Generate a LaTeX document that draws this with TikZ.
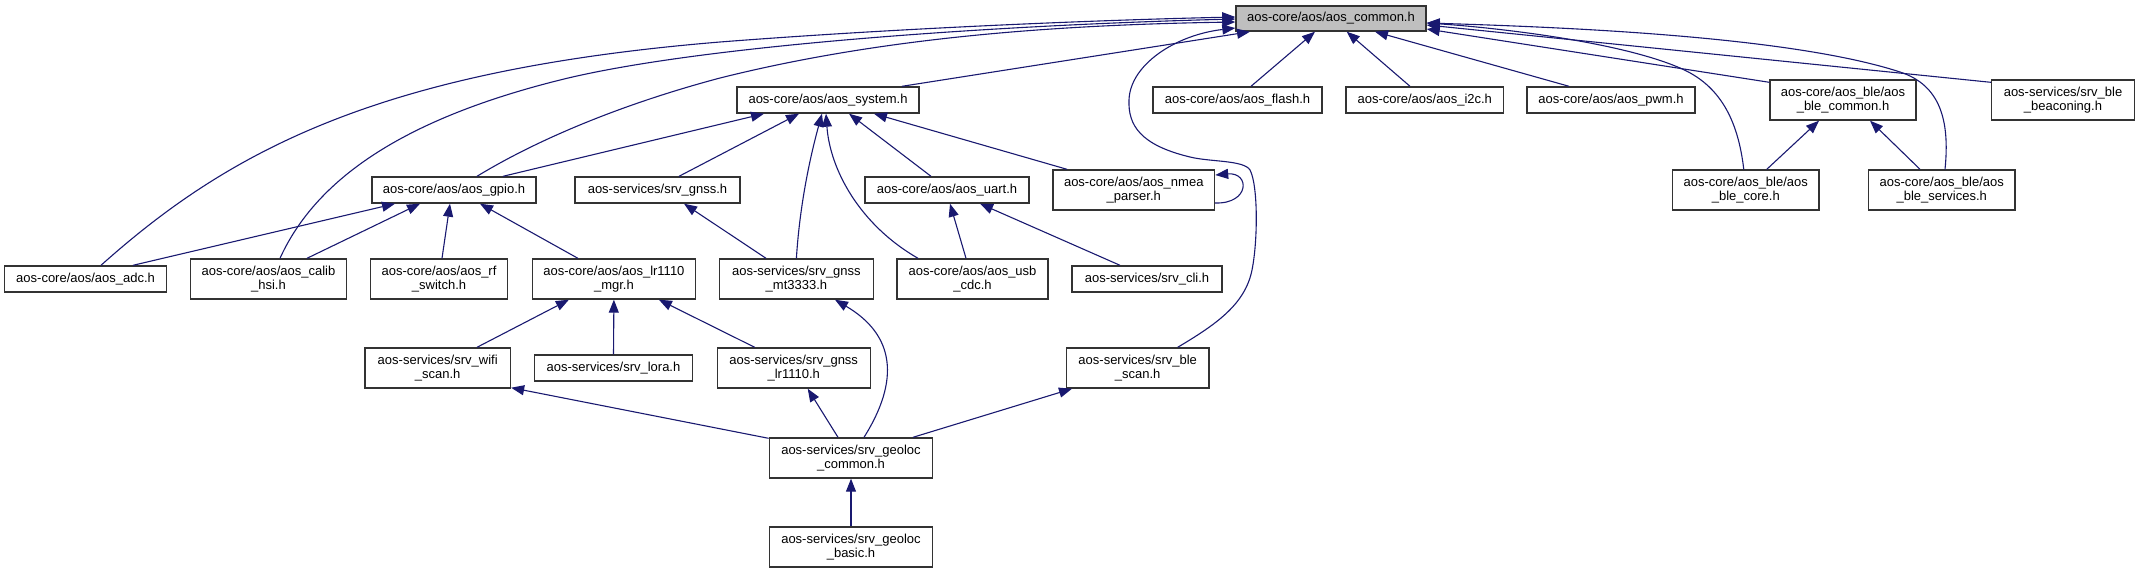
\documentclass[tikz,border=0pt]{standalone}
\usepackage{fontspec}
\setmainfont{Liberation Sans}
\usetikzlibrary{arrows.meta}
\definecolor{edgeblue}{HTML}{191970}
\definecolor{rootgray}{HTML}{BFBFBF}
\begin{document}
\begin{tikzpicture}[x=1pt,y=-1pt,
  box/.style={draw=black!80, line width=1.4pt, fill=white, inner sep=0pt, align=center,
    font=\fontsize{13}{14}\selectfont},
  one/.style={box, minimum height=26pt},
  two/.style={box, minimum height=40pt},
  edge/.style={draw=edgeblue, line width=1.1pt, -{Triangle[length=13pt,width=10pt]}}]
\useasboundingbox (0,0) rectangle (2140,573);
% rank 0
\node[one, minimum height=25pt, minimum width=190pt, fill=rootgray] (common) at (1331,18.5) {aos-core/aos/aos\_common.h};
% rank 1
\node[one, minimum width=182pt] (system) at (828,100) {aos-core/aos/aos\_system.h};
\node[one, minimum width=169pt] (flash) at (1237.5,100) {aos-core/aos/aos\_flash.h};
\node[one, minimum width=157.5pt] (itwoc) at (1424.75,100) {aos-core/aos/aos\_i2c.h};
\node[one, minimum width=168pt] (pwm) at (1611,100) {aos-core/aos/aos\_pwm.h};
\node[two, minimum width=146pt] (blecommon) at (1843,100) {aos-core/aos\_ble/aos\\\_ble\_common.h};
\node[two, minimum width=143pt] (beaconing) at (2063,100) {aos-services/srv\_ble\\\_beaconing.h};
% rank 2
\node[one, minimum width=164pt] (gpio) at (454,190) {aos-core/aos/aos\_gpio.h};
\node[one, minimum width=165pt] (srvgnss) at (657.5,190) {aos-services/srv\_gnss.h};
\node[one, minimum width=164pt] (uart) at (947,190) {aos-core/aos/aos\_uart.h};
\node[two, minimum width=161.5pt] (nmea) at (1133.75,190) {aos-core/aos/aos\_nmea\\\_parser.h};
\node[two, minimum width=146.5pt] (blecore) at (1745.75,190) {aos-core/aos\_ble/aos\\\_ble\_core.h};
\node[two, minimum width=146.6pt] (bleservices) at (1941.7,190) {aos-core/aos\_ble/aos\\\_ble\_services.h};
% rank 3
\node[one, minimum width=162pt] (adc) at (85.6,279) {aos-core/aos/aos\_adc.h};
\node[two, minimum width=156pt] (calib) at (268.5,279) {aos-core/aos/aos\_calib\\\_hsi.h};
\node[two, minimum width=137pt] (rfswitch) at (439,279) {aos-core/aos/aos\_rf\\\_switch.h};
\node[two, minimum width=163pt] (mgr) at (613.9,279) {aos-core/aos/aos\_lr1110\\\_mgr.h};
\node[two, minimum width=154pt] (mtgnss) at (796.4,279) {aos-services/srv\_gnss\\\_mt3333.h};
\node[two, minimum width=151pt] (usbcdc) at (972.5,279) {aos-core/aos/aos\_usb\\\_cdc.h};
\node[one, minimum width=150pt] (srvcli) at (1147,279) {aos-services/srv\_cli.h};
% rank 4
\node[two, minimum width=145.5pt] (wifi) at (437.7,368) {aos-services/srv\_wifi\\\_scan.h};
\node[one, minimum width=157.5pt] (lora) at (613.5,368) {aos-services/srv\_lora.h};
\node[two, minimum width=153pt] (gnsslr) at (793.7,368) {aos-services/srv\_gnss\\\_lr1110.h};
\node[two, minimum width=142.7pt] (blescan) at (1137.7,368) {aos-services/srv\_ble\\\_scan.h};
% rank 5, 6
\node[two, minimum width=163.4pt] (geocommon) at (851,458) {aos-services/srv\_geoloc\\\_common.h};
\node[two, minimum width=163.4pt] (geobasic) at (851,547) {aos-services/srv\_geoloc\\\_basic.h};

% edges into aos_common
\draw[edge] ([xshift=15.4pt]adc.north) .. controls (230,150) and (380,70) .. (720,42)
  .. controls (900,28) and (1100,20) .. ([yshift=1.5pt]common.west);
\draw[edge] ([xshift=11.5pt]calib.north) .. controls (320,170) and (420,115) .. (560,80)
  .. controls (700,45) and (1000,25) .. ([yshift=-0.5pt]common.west);
\draw[edge] ([xshift=23pt]gpio.north) .. controls (520,150) and (600,110) .. (720,78)
  .. controls (880,38) and (1050,25) .. ([yshift=-3.5pt]common.west);
\draw[edge] ([xshift=74pt]system.north) -- ([xshift=-81pt]common.south);
\draw[edge] ([xshift=40pt]blescan.north) .. controls (1215,325) and (1245,305) .. (1252,270)
  .. controls (1258,240) and (1258,185) .. (1250,170)
  .. controls (1244,160) and (1210,162) .. (1190,157)
  .. controls (1140,145) and (1128,125) .. (1129,100)
  .. controls (1130,65) and (1175,35) .. ([yshift=-9.5pt]common.west);
\draw[edge] ([xshift=13.5pt]flash.north) -- ([xshift=-16pt]common.south);
\draw[edge] ([xshift=-14.75pt]itwoc.north) -- ([xshift=15.7pt]common.south);
\draw[edge] ([xshift=-42pt]pwm.north) -- ([xshift=44pt]common.south);
\draw[edge] ([yshift=-3pt]blecommon.north west) -- ([yshift=-10.5pt]common.east);
\draw[edge] ([xshift=-2pt]blecore.north) .. controls (1738,120) and (1720,85) .. (1680,68)
  .. controls (1620,42) and (1500,28) .. ([yshift=-4.5pt]common.east);
\draw[edge] ([xshift=3.3pt]bleservices.north) .. controls (1950,120) and (1940,85) .. (1900,72)
  .. controls (1790,36) and (1560,27) .. ([yshift=-4.5pt]common.east);
\draw[edge] ([yshift=-3pt]beaconing.north west) -- ([yshift=-6.5pt]common.east);
% ble common
\draw[edge] ([xshift=-21.7pt]bleservices.north) -- ([xshift=27pt]blecommon.south);
\draw[edge] ([xshift=21pt]blecore.north) -- ([xshift=-24pt]blecommon.south);
% into aos_system
\draw[edge] ([xshift=49pt]gpio.north) -- ([xshift=-64pt]system.south);
\draw[edge] ([xshift=21.5pt]srvgnss.north) -- ([xshift=-29pt]system.south);
\draw[edge] (mtgnss.north) .. controls (800,200) and (812,150) .. ([xshift=-6pt]system.south);
\draw[edge] ([xshift=-54.5pt]usbcdc.north) .. controls (860,225) and (830,170) .. ([xshift=-2pt]system.south);
\draw[edge] ([xshift=-16pt]uart.north) -- ([xshift=21pt]system.south);
\draw[edge] ([xshift=-66.75pt]nmea.north) -- ([xshift=46pt]system.south);
% nmea self loop
\draw[edge] ([yshift=-13pt]nmea.east) .. controls (1250,204) and (1250,172) .. ([yshift=15pt]nmea.east);
% into aos_gpio
\draw[edge] ([xshift=47.4pt]adc.north) -- ([xshift=-59pt]gpio.south);
\draw[edge] ([xshift=38.5pt]calib.north) -- ([xshift=-34pt]gpio.south);
\draw[edge] ([xshift=3pt]rfswitch.north) -- ([xshift=-4pt]gpio.south);
\draw[edge] ([xshift=-36pt]mgr.north) -- ([xshift=26pt]gpio.south);
% others
\draw[edge] ([xshift=-30.4pt]mtgnss.north) -- ([xshift=26.5pt]srvgnss.south);
\draw[edge] ([xshift=-6.5pt]usbcdc.north) -- ([xshift=3pt]uart.south);
\draw[edge] ([xshift=-27pt]srvcli.north) -- ([xshift=33pt]uart.south);
% into lr1110_mgr
\draw[edge] ([xshift=39.3pt]wifi.north) -- ([xshift=-45pt]mgr.south);
\draw[edge] (lora.north) -- (mgr.south);
\draw[edge] ([xshift=-39pt]gnsslr.north) -- ([xshift=45pt]mgr.south);
% from geoloc common
\draw[edge] ([yshift=-1pt]geocommon.north west) -- ([yshift=1pt]wifi.south east);
\draw[edge] ([xshift=-13pt]geocommon.north) -- ([xshift=14pt]gnsslr.south);
\draw[edge] ([xshift=13pt]geocommon.north) .. controls (900,380) and (895,335) .. ([xshift=38.6pt]mtgnss.south);
\draw[edge] ([xshift=62pt]geocommon.north) -- ([xshift=-65.7pt]blescan.south);
\draw[edge] (geobasic.north) -- (geocommon.south);
\end{tikzpicture}
\end{document}
